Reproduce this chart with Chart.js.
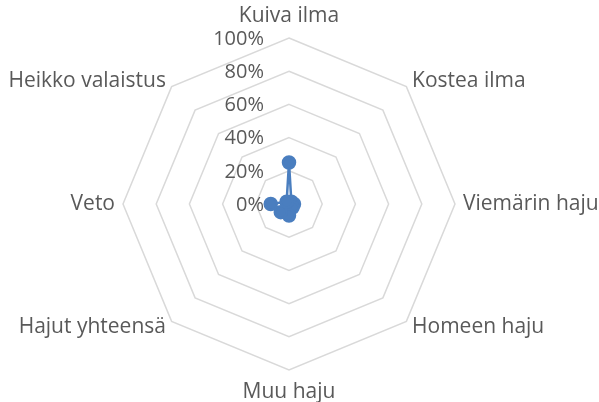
<!DOCTYPE html>
<html>
<head>
<meta charset="utf-8">
<script src="https://cdn.jsdelivr.net/npm/chart.js@4"></script>
<style>
  html, body { margin: 0; padding: 0; background: #fff; }
  #wrap { width: 599px; height: 402px; }
</style>
</head>
<body>
<div id="wrap"><canvas id="radarChart"></canvas></div>
<script>
const categories = ['Kuiva ilma', 'Kostea ilma', 'Viemärin haju', 'Homeen haju', 'Muu haju', 'Hajut yhteensä', 'Veto', 'Heikko valaistus'];
const values = [25, 2, 3, 3, 7, 7, 11, 2];
const tickValues = [0, 20, 40, 60, 80, 100];

const textColor = '#595959';
const seriesColor = '#4a7ebf';
const fontFamily = "'Open Sans'";

// category names and % labels drawn Excel-style around the scale
const labelPlugin = {
    id: 'excelLabels',
    afterDraw(chart) {
        const scale = chart.scales.r;
        const ctx = chart.ctx;
        ctx.save();
        ctx.fillStyle = textColor;
        ctx.textBaseline = 'middle';

        ctx.font = '20px ' + fontFamily;
        ctx.textAlign = 'right';
        tickValues.forEach(function(v) {
            const d = scale.getDistanceFromCenterForValue(v);
            ctx.fillText(v + '%', scale.xCenter - 25, scale.yCenter - d + 1);
        });

        ctx.font = '21px ' + fontFamily;
        categories.forEach(function(label, i) {
            const angle = scale.getIndexAngle(i);
            const sx = Math.sin(angle);
            const vertical = Math.abs(sx) < 0.01;
            const pos = scale.getPointPosition(i, scale.drawingArea + (vertical ? 22 : 8));
            ctx.textAlign = vertical ? 'center' : (sx > 0 ? 'left' : 'right');
            ctx.fillText(label, pos.x, pos.y);
        });
        ctx.restore();
    }
};

const ctx = document.getElementById('radarChart');
new Chart(ctx, {
    type: 'radar',
    data: {
        labels: categories,
        datasets: [{
            data: values,
            borderColor: seriesColor,
            backgroundColor: seriesColor,
            borderWidth: 2.5,
            pointRadius: 6,
            pointBackgroundColor: seriesColor,
            pointBorderColor: seriesColor,
            fill: false
        }]
    },
    options: {
        responsive: true,
        maintainAspectRatio: false,
        animation: false,
        layout: { padding: { left: 89, right: 110, top: 38, bottom: 32 } },
        scales: {
            r: {
                min: 0,
                max: 100,
                ticks: { stepSize: 20, display: false },
                angleLines: { display: false },
                grid: { color: '#d9d9d9', lineWidth: 1.5 },
                pointLabels: { display: false }
            }
        },
        plugins: {
            legend: { display: false },
            tooltip: { enabled: false }
        }
    },
    plugins: [labelPlugin]
});
</script>
</body>
</html>
